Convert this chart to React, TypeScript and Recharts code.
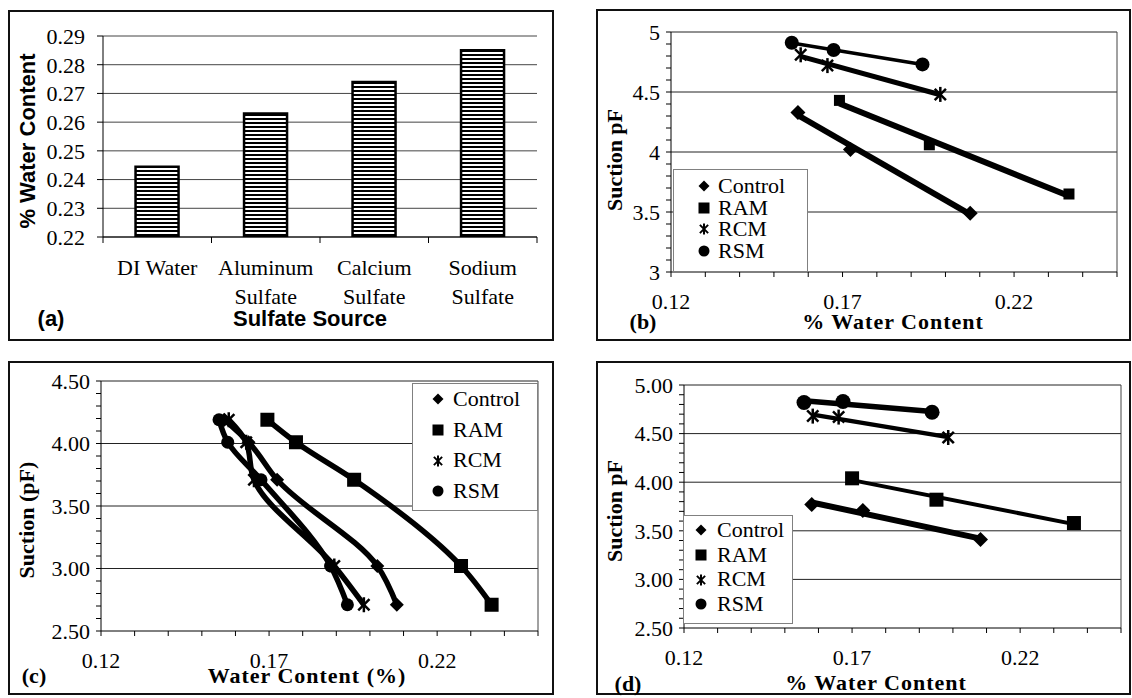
import React from "react";
import {
  BarChart,
  Bar,
  XAxis,
  YAxis,
  CartesianGrid,
  ScatterChart,
  Scatter,
  ReferenceLine,
  Legend,
} from "recharts";

const SERIF = '"Liberation Serif", "Times New Roman", serif';
const SANS = '"Liberation Sans", Arial, sans-serif';

// (a) water content per sulfate source
const sources = ["DI Water", "Aluminum Sulfate", "Calcium Sulfate", "Sodium Sulfate"];
const sourceWater = [0.2445, 0.263, 0.274, 0.285];
const sourceTicks = [0.22, 0.23, 0.24, 0.25, 0.26, 0.27, 0.28, 0.29];

// shared water content axis
const waterTicks = [0.12, 0.13, 0.14, 0.15, 0.16, 0.17, 0.18, 0.19, 0.2, 0.21, 0.22, 0.23, 0.24, 0.25];
const waterLabels = [0.12, 0.17, 0.22];

const seriesNames = ["Control", "RAM", "RCM", "RSM"];
const markerKinds = ["diamond", "square", "star", "circle"];

// (b)
const bControlW = [0.157, 0.1723, 0.2072];
const bControlS = [4.33, 4.02, 3.49];
const bRamW = [0.1691, 0.1953, 0.236];
const bRamS = [4.43, 4.06, 3.65];
const bRcmW = [0.1578, 0.1656, 0.1985];
const bRcmS = [4.81, 4.72, 4.48];
const bRsmW = [0.1552, 0.1674, 0.1933];
const bRsmS = [4.91, 4.85, 4.73];
const bTicks = [3, 3.1, 3.2, 3.3, 3.4, 3.5, 3.6, 3.7, 3.8, 3.9, 4, 4.1, 4.2, 4.3, 4.4, 4.5, 4.6, 4.7, 4.8, 4.9, 5];
const bLabels = [3, 3.5, 4, 4.5, 5];

// (c)
const cSuction = [4.19, 4.01, 3.71, 3.02, 2.71];
const cControlW = [0.1567, 0.1639, 0.1724, 0.2022, 0.208];
const cRamW = [0.1695, 0.178, 0.1953, 0.2271, 0.2362];
const cRcmW = [0.158, 0.1632, 0.1655, 0.1894, 0.1982];
const cRsmW = [0.1551, 0.1577, 0.1676, 0.1883, 0.1933];
const cTicks = [2.5, 2.6, 2.7, 2.8, 2.9, 3, 3.1, 3.2, 3.3, 3.4, 3.5, 3.6, 3.7, 3.8, 3.9, 4, 4.1, 4.2, 4.3, 4.4, 4.5];
const cLabels = [2.5, 3, 3.5, 4, 4.5];

// (d)
const dControlW = [0.158, 0.1732, 0.2082];
const dControlS = [3.77, 3.71, 3.41];
const dRamW = [0.17, 0.1951, 0.236];
const dRamS = [4.04, 3.82, 3.58];
const dRcmW = [0.1583, 0.166, 0.1986];
const dRcmS = [4.68, 4.67, 4.46];
const dRsmW = [0.1557, 0.1673, 0.1938];
const dRsmS = [4.82, 4.83, 4.72];
const dTicks = [2.5, 2.6, 2.7, 2.8, 2.9, 3, 3.1, 3.2, 3.3, 3.4, 3.5, 3.6, 3.7, 3.8, 3.9, 4, 4.1, 4.2, 4.3, 4.4, 4.5, 4.6, 4.7, 4.8, 4.9, 5];
const dLabels = [2.5, 3, 3.5, 4, 4.5, 5];

const pts = (xs: number[], ys: number[]) => xs.map((x, i) => ({ x, y: ys[i] }));
const has = (list: number[], v: number) => list.some((l) => Math.abs(l - v) < 1e-9);

function Marker({ kind, cx, cy, size }: any) {
  const r = size / 2;
  if (kind === "diamond")
    return <path d={`M${cx} ${cy - r}L${cx + r} ${cy}L${cx} ${cy + r}L${cx - r} ${cy}Z`} fill="#000" />;
  if (kind === "square") return <rect x={cx - r} y={cy - r} width={size} height={size} fill="#000" />;
  if (kind === "circle") return <circle cx={cx} cy={cy} r={r} fill="#000" />;
  const k = r * 0.75;
  return (
    <g stroke="#000" strokeWidth={size > 12 ? 2.5 : 2}>
      <line x1={cx} y1={cy - r} x2={cx} y2={cy + r} />
      <line x1={cx - k} y1={cy - k} x2={cx + k} y2={cy + k} />
      <line x1={cx - k} y1={cy + k} x2={cx + k} y2={cy - k} />
    </g>
  );
}

function Text({ x, y, rotate, font, children, spacing }: any) {
  return (
    <div
      style={{
        position: "absolute",
        left: x,
        top: y,
        transform: `translate(-50%, -50%)${rotate ? " rotate(-90deg)" : ""}`,
        whiteSpace: "nowrap",
        fontFamily: font,
        fontWeight: "bold",
        fontSize: 22,
        letterSpacing: spacing || 0,
        lineHeight: 1,
      }}
    >
      {children}
    </div>
  );
}

function Frame({ left, top, width, height, children }: any) {
  return (
    <div style={{ position: "absolute", left, top, width, height }}>
      <div
        style={{
          position: "absolute",
          inset: 0,
          border: "2px solid #111",
          boxSizing: "border-box",
        }}
      />
      {children}
    </div>
  );
}

function LegendBox({ w, h, padTop, rowH, markX, textX, mark }: any) {
  return (
    <div
      style={{
        width: w,
        height: h,
        boxSizing: "border-box",
        border: "1px solid #808080",
        background: "#fff",
        paddingTop: padTop,
        fontFamily: SERIF,
        fontSize: 22,
        color: "#000",
      }}
    >
      {seriesNames.map((n, i) => (
        <div key={n} style={{ position: "relative", height: rowH, lineHeight: `${rowH}px` }}>
          <svg
            width={16}
            height={16}
            style={{ position: "absolute", left: markX - 8, top: rowH / 2 - 8 }}
          >
            <Marker kind={markerKinds[i]} cx={8} cy={8} size={mark} />
          </svg>
          <span style={{ position: "absolute", left: textX, top: 0, whiteSpace: "nowrap" }}>{n}</span>
        </div>
      ))}
    </div>
  );
}

const A_PLOT_W = 434;

const SourceTick = (props: any) => {
  const { x, y, payload, index } = props;
  const half = A_PLOT_W / sources.length / 2;
  const lines = String(payload.value).replace(" Sulfate", "\nSulfate").split("\n");
  return (
    <g>
      <line x1={x - half} y1={y} x2={x - half} y2={y + 6} stroke="#000" />
      {index === sources.length - 1 && <line x1={x + half} y1={y} x2={x + half} y2={y + 6} stroke="#000" />}
      {lines.map((l, i) => (
        <text
          key={i}
          x={x}
          y={y + 30 + i * 29}
          dy="0.35em"
          textAnchor="middle"
          fontFamily={SERIF}
          fontSize={22}
          fill="#000"
        >
          {l}
        </text>
      ))}
    </g>
  );
};

function BarPanel() {
  const data = sources.map((s, i) => ({ source: s, value: sourceWater[i] }));
  return (
    <BarChart
      width={546}
      height={331}
      data={data}
      margin={{ top: 26, right: 17, bottom: 0, left: 0 }}
      barCategoryGap="30%"
    >
      <CartesianGrid vertical={false} stroke="#444" />
      <XAxis
        dataKey="source"
        height={104}
        tickLine={false}
        tickSize={0}
        tickMargin={0}
        interval={0}
        axisLine={{ stroke: "#000" }}
        tick={<SourceTick />}
      />
      <YAxis
        domain={[0.22, 0.29]}
        ticks={sourceTicks}
        interval={0}
        width={95}
        tickSize={6}
        tickMargin={12}
        allowDataOverflow
        axisLine={{ stroke: "#000" }}
        tickLine={{ stroke: "#000" }}
        tick={{ fontFamily: SERIF, fontSize: 22, fill: "#000" }}
        tickFormatter={(v: number) => v.toFixed(2)}
      />
      <YAxis yAxisId="edge" orientation="right" width={0} tick={false} tickLine={false} axisLine={{ stroke: "#444" }} />
      <Bar dataKey="value" fill="url(#hstripes)" stroke="#000" strokeWidth={2.5} isAnimationActive={false} />
    </BarChart>
  );
}

function ScatterPanel({
  width,
  height,
  margin,
  yWidth,
  xHeight,
  yDomain,
  yTicks,
  yLabels,
  yFormat,
  series,
  fitting,
  legend,
}: any) {
  return (
    <ScatterChart width={width} height={height} margin={{ ...margin, left: 0, bottom: 0 }}>
      <XAxis
        type="number"
        dataKey="x"
        domain={[0.12, 0.25]}
        ticks={waterTicks}
        interval={0}
        allowDataOverflow
        height={xHeight}
        tickSize={5}
        tickMargin={16}
        axisLine={{ stroke: "#000" }}
        tickLine={{ stroke: "#000" }}
        tick={{ fontFamily: SERIF, fontSize: 22, fill: "#000" }}
        tickFormatter={(v: number) => (has(waterLabels, v) ? v.toFixed(2) : "")}
      />
      <YAxis
        type="number"
        dataKey="y"
        domain={yDomain}
        ticks={yTicks}
        interval={0}
        allowDataOverflow
        width={yWidth}
        tickSize={5}
        tickMargin={6}
        axisLine={{ stroke: "#000" }}
        tickLine={{ stroke: "#000" }}
        tick={{ fontFamily: SERIF, fontSize: 22, fill: "#000" }}
        tickFormatter={(v: number) => (has(yLabels, v) ? yFormat(v) : "")}
      />
      {yLabels
        .filter((v: number) => v > yDomain[0])
        .map((v: number) => (
          <ReferenceLine key={v} y={v} stroke="#222" strokeWidth={1} />
        ))}
      <ReferenceLine x={0.25} stroke="#444" strokeWidth={1} />
      {series.map((s: any) => (
        <Scatter
          key={s.name}
          name={s.name}
          data={s.data}
          isAnimationActive={false}
          line={{ stroke: "#000", strokeWidth: s.lineWidth }}
          lineType={fitting ? "fitting" : "joint"}
          lineJointType="monotoneY"
          shape={(p: any) => <Marker kind={s.kind} cx={p.cx} cy={p.cy} size={s.size} />}
        />
      ))}
      <Legend
        layout="vertical"
        align="center"
        verticalAlign="middle"
        wrapperStyle={{ left: legend.left, top: legend.top, width: legend.w, height: legend.h }}
        content={() => <LegendBox {...legend} />}
      />
    </ScatterChart>
  );
}

export default function App() {
  const bSeries = [
    { name: "Control", kind: "diamond", size: 15, lineWidth: 6, data: pts(bControlW, bControlS) },
    { name: "RAM", kind: "square", size: 11, lineWidth: 6, data: pts(bRamW, bRamS) },
    { name: "RCM", kind: "star", size: 15, lineWidth: 5, data: pts(bRcmW, bRcmS) },
    { name: "RSM", kind: "circle", size: 14, lineWidth: 3.5, data: pts(bRsmW, bRsmS) },
  ];
  const cSeries = [
    { name: "Control", kind: "diamond", size: 14, lineWidth: 5.5, data: pts(cControlW, cSuction) },
    { name: "RAM", kind: "square", size: 14, lineWidth: 5.5, data: pts(cRamW, cSuction) },
    { name: "RCM", kind: "star", size: 15, lineWidth: 5.5, data: pts(cRcmW, cSuction) },
    { name: "RSM", kind: "circle", size: 13, lineWidth: 5.5, data: pts(cRsmW, cSuction) },
  ];
  const dSeries = [
    { name: "Control", kind: "diamond", size: 15, lineWidth: 6, data: pts(dControlW, dControlS) },
    { name: "RAM", kind: "square", size: 14, lineWidth: 4, data: pts(dRamW, dRamS) },
    { name: "RCM", kind: "star", size: 15, lineWidth: 4.5, data: pts(dRcmW, dRcmS) },
    { name: "RSM", kind: "circle", size: 15, lineWidth: 5.5, data: pts(dRsmW, dRsmS) },
  ];

  return (
    <div style={{ position: "absolute", left: 0, top: 0, width: 1132, height: 698, background: "#fff", overflow: "hidden" }}>
      <svg width={0} height={0} style={{ position: "absolute" }}>
        <defs>
          <pattern id="hstripes" patternUnits="userSpaceOnUse" width={8} height={4}>
            <rect width={8} height={4} fill="#fff" />
            <rect width={8} height={2} fill="#000" />
          </pattern>
        </defs>
      </svg>

      <Frame left={8} top={10} width={546} height={331}>
        <BarPanel />
      </Frame>
      <Text x={28} y={141} rotate font={SANS}>% Water Content</Text>
      <Text x={310} y={319} font={SANS}>Sulfate Source</Text>
      <Text x={51} y={319} font={SANS}>(a)</Text>

      <Frame left={596} top={9} width={535} height={332}>
        <ScatterPanel
          width={535}
          height={332}
          margin={{ top: 23, right: 14 }}
          yWidth={75}
          xHeight={69}
          yDomain={[3, 5]}
          yTicks={bTicks}
          yLabels={bLabels}
          yFormat={(v: number) => String(v)}
          series={bSeries}
          fitting
          legend={{ left: 77, top: 160, w: 135, h: 103, padTop: 5, rowH: 21.7, markX: 30, textX: 44, mark: 11 }}
        />
      </Frame>
      <Text x={615} y={160} rotate font={SERIF}>Suction pF</Text>
      <Text x={893} y={322} font={SERIF} spacing={1}>% Water Content</Text>
      <Text x={643} y={322} font={SERIF}>(b)</Text>

      <Frame left={8} top={361} width={546} height={334}>
        <ScatterPanel
          width={546}
          height={334}
          margin={{ top: 20, right: 16 }}
          yWidth={93}
          xHeight={64}
          yDomain={[2.5, 4.5]}
          yTicks={cTicks}
          yLabels={cLabels}
          yFormat={(v: number) => v.toFixed(2)}
          series={cSeries}
          fitting={false}
          legend={{ left: 404, top: 22, w: 126, h: 128, padTop: 0, rowH: 30.7, markX: 25, textX: 40, mark: 11 }}
        />
      </Frame>
      <Text x={27} y={520} rotate font={SERIF}>Suction (pF)</Text>
      <Text x={307} y={676} font={SERIF} spacing={1}>Water Content (%)</Text>
      <Text x={34} y={676} font={SERIF}>(c)</Text>

      <Frame left={596} top={361} width={535} height={334}>
        <ScatterPanel
          width={535}
          height={334}
          margin={{ top: 24, right: 10 }}
          yWidth={88}
          xHeight={67}
          yDomain={[2.5, 5]}
          yTicks={dTicks}
          yLabels={dLabels}
          yFormat={(v: number) => v.toFixed(2)}
          series={dSeries}
          fitting
          legend={{ left: 87, top: 154, w: 110, h: 109, padTop: 2, rowH: 24.7, markX: 17, textX: 33, mark: 11 }}
        />
      </Frame>
      <Text x={615} y={511} rotate font={SERIF}>Suction pF</Text>
      <Text x={876} y={683} font={SERIF} spacing={1}>% Water Content</Text>
      <Text x={628} y={684} font={SERIF}>(d)</Text>
    </div>
  );
}
